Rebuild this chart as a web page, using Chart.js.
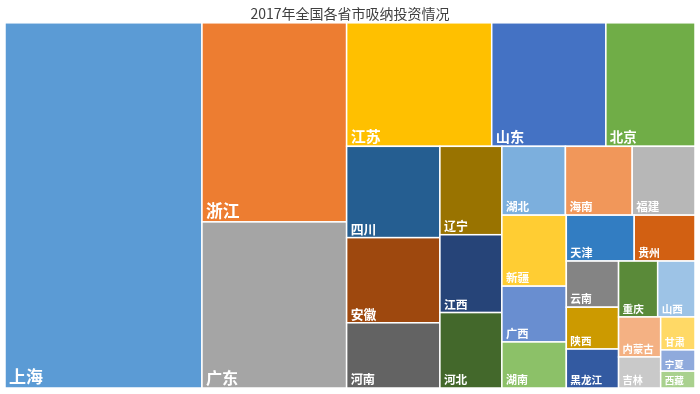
<!DOCTYPE html>
<html>
<head>
<meta charset="utf-8">
<script src="https://cdn.jsdelivr.net/npm/chart.js@4"></script>
<style>
  html, body { margin: 0; padding: 0; background: #fff; }
  #wrap { width: 700px; height: 394px; }
</style>
</head>
<body>
<div id="wrap"><canvas id="treemap"></canvas></div>
<script>
// ---- data (order = layout order, biggest first) ----
const provinces = ['上海', '浙江', '广东', '江苏', '山东', '北京', '四川', '安徽', '河南',
  '辽宁', '江西', '河北', '湖北', '海南', '福建', '新疆', '广西', '湖南', '天津', '贵州',
  '云南', '陕西', '黑龙江', '重庆', '山西', '内蒙古', '吉林', '甘肃', '宁夏', '西藏'];
const investValues = [286.2, 114.6, 95.6, 71.3, 56.1, 43.8, 33.9, 31.6, 24.2,
  21.8, 19.2, 18.6, 17.4, 18.3, 17.2, 18.2, 14.3, 11.8, 12.4, 11.1,
  9.6, 8.7, 8.1, 8.7, 8.3, 6.7, 5.2, 4.5, 2.9, 2.3];
const cellColors = ['#5B9BD5', '#ED7D31', '#A5A5A5', '#FFC000', '#4472C4', '#70AD47', '#255E91', '#9E480E', '#636363',
  '#997300', '#264478', '#43682B', '#7CAFDD', '#F1975A', '#B7B7B7', '#FFCD33', '#698ED0', '#8CC168', '#327DC2', '#D26012',
  '#848484', '#CC9A00', '#335AA1', '#5A8A39', '#9DC3E6', '#F4B183', '#C9C9C9', '#FFD966', '#8FAADC', '#A9D18E'];
const chartTitle = '2017年全国各省市吸纳投资情况';

// worst aspect ratio of a strip laid along `side`
function worst(row, side) {
  const sum = row.reduce((a, b) => a + b, 0);
  const thick = sum / side;
  let w = 0;
  row.forEach(a => {
    const len = a / thick;
    w = Math.max(w, len / thick, thick / len);
  });
  return w;
}

// squarified layout, keeps the given order
function squarify(areas, x, y, w, h) {
  const out = [];
  let i = 0;
  while (i < areas.length) {
    const vertical = w >= h;
    const side = vertical ? h : w;
    const row = [areas[i]];
    let j = i + 1;
    while (j < areas.length && worst(row.concat(areas[j]), side) <= worst(row, side)) {
      row.push(areas[j]);
      j++;
    }
    const thick = row.reduce((a, b) => a + b, 0) / side;
    let off = 0;
    row.forEach(a => {
      const len = a / thick;
      if (vertical) out.push({ x: x, y: y + off, w: thick, h: len });
      else out.push({ x: x + off, y: y, w: len, h: thick });
      off += len;
    });
    if (vertical) { x += thick; w -= thick; } else { y += thick; h -= thick; }
    i = j;
  }
  return out;
}

const treemapPlugin = {
  id: 'treemapCells',
  afterDatasetsDraw(chart) {
    const { ctx, chartArea, scales } = chart;
    const W = chartArea.right - chartArea.left;
    const H = chartArea.bottom - chartArea.top;
    const total = investValues.reduce((a, b) => a + b, 0);
    const areas = investValues.map(v => v / total * W * H);
    const cells = squarify(areas, 0, 0, W, H);

    ctx.save();
    cells.forEach((c, i) => {
      const x0 = scales.x.getPixelForValue(c.x / W);
      const x1 = scales.x.getPixelForValue((c.x + c.w) / W);
      const y0 = scales.y.getPixelForValue(c.y / H);
      const y1 = scales.y.getPixelForValue((c.y + c.h) / H);
      ctx.fillStyle = cellColors[i];
      ctx.fillRect(x0, y0, x1 - x0, y1 - y0);
      ctx.strokeStyle = '#fff';
      ctx.lineWidth = 1.5;
      ctx.strokeRect(x0, y0, x1 - x0, y1 - y0);

      const size = Math.min(17, 8.3 + 0.05 * Math.sqrt((x1 - x0) * (y1 - y0)));
      ctx.font = `bold ${size.toFixed(1)}px "Noto Sans CJK SC", sans-serif`;
      ctx.fillStyle = '#fff';
      ctx.textAlign = 'left';
      ctx.textBaseline = 'bottom';
      ctx.fillText(provinces[i], x0 + 4, y1 - 2.5);
    });
    ctx.restore();
  }
};

new Chart(document.getElementById('treemap'), {
  type: 'scatter',
  data: { datasets: [{ label: '吸纳投资', data: [] }] },
  options: {
    responsive: true,
    maintainAspectRatio: false,
    animation: false,
    layout: { padding: { left: 5, right: 5, top: 1, bottom: 6 } },
    scales: {
      x: { type: 'linear', min: 0, max: 1, display: false },
      y: { type: 'linear', min: 0, max: 1, reverse: true, display: false }
    },
    plugins: {
      legend: { display: false },
      tooltip: { enabled: false },
      title: {
        display: true,
        text: chartTitle,
        color: '#404040',
        font: { size: 14, weight: 'normal', family: '"Noto Sans CJK SC", sans-serif' },
        padding: { top: 4, bottom: 1 }
      }
    }
  },
  plugins: [treemapPlugin]
});
</script>
</body>
</html>
